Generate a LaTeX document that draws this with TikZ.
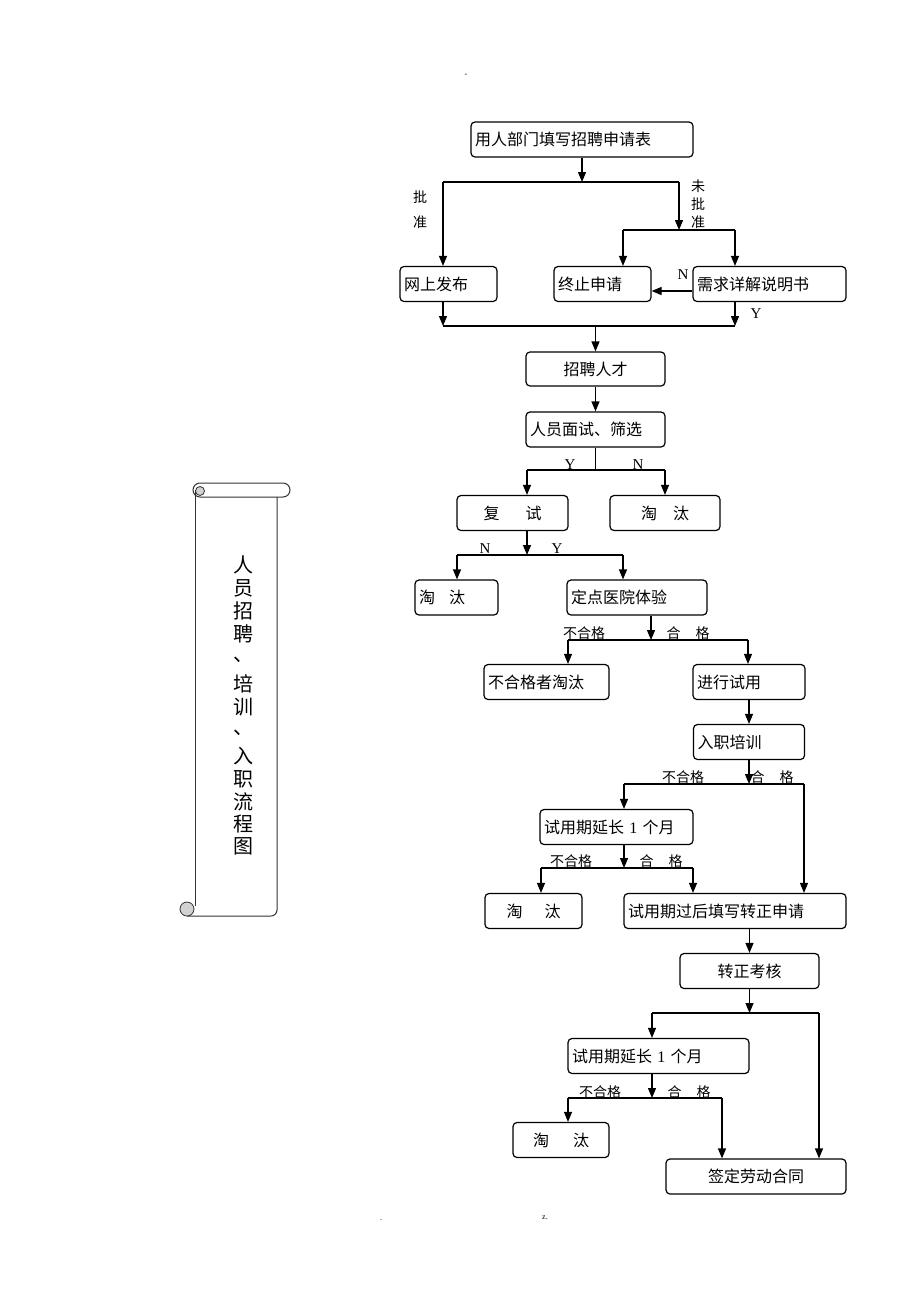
\documentclass[tikz,border=0pt]{standalone}
\usepackage{fontspec}
\setmainfont{Liberation Serif}
\newfontfamily\cjk{Noto Sans CJK SC}
\usetikzlibrary{arrows.meta}

\begin{document}
\begin{tikzpicture}[x=1pt, y=-1pt,
	box/.style={draw, line width=1.2pt, rounded corners=4pt, minimum height=35pt, inner xsep=4pt, inner ysep=0pt, font=\cjk\fontsize{16}{18}\selectfont},
	lbox/.style={box, text width=#1, align=left},
	cbox/.style={box, minimum width=#1, align=center},
	arr/.style={line width=1.2pt, -{Triangle[length=10pt,width=8pt]}},
	ln/.style={line width=1.2pt},
	lab/.style={inner sep=0pt, font=\cjk\fontsize{14}{14}\selectfont},
	yn/.style={inner sep=0pt, font=\fontsize{15}{15}\selectfont},
	title/.style={inner sep=0pt, font=\cjk\fontsize{20}{20}\selectfont},
	pagemark/.style={inner sep=0pt, font=\fontsize{8}{8}\selectfont}]
	\useasboundingbox (0,0) rectangle (920,1302);

	% scroll with the title
	\draw[line width=1pt, black!80, rounded corners=7pt] (193,483) rectangle (290,497);
	\filldraw[line width=0.8pt, draw=black!80, fill=gray!35] (200,491) circle (4.5);
	\draw[line width=1pt, black!80] (195,490) -- (195,906);
	\draw[line width=1pt, black!80, rounded corners=6pt] (277,497) -- (277,916) -- (187,916);
	\filldraw[line width=0.8pt, draw=black!80, fill=gray!35] (187,909) circle (7);
	\foreach \ch/\yy [count=\i] in {人/565, 员/588, 招/611, 聘/634, 、/660, 培/684, 训/707, 、/733, 入/756, 职/779, 流/802, 程/824, 图/846}
		\node[title] (title\i) at (243,\yy) {\ch};

	% boxes
	\node[lbox=214pt] (apply) at (582,139.5) {用人部门填写招聘申请表};
	\node[lbox=89pt] (web) at (448.5,284) {网上发布};
	\node[lbox=89pt] (stop) at (602.5,284) {终止申请};
	\node[lbox=145pt] (spec) at (769.5,284) {需求详解说明书};
	\node[cbox=139pt, minimum height=34pt] (recruit) at (595.5,369) {招聘人才};
	\node[lbox=131pt] (interview) at (595.5,429.5) {人员面试、筛选};
	\node[cbox=111pt] (retest) at (512.5,513) {复\hspace{26pt}试};
	\node[cbox=110pt] (out1) at (665,513) {淘\hspace{16pt}汰};
	\node[lbox=75pt] (out2) at (456.5,597.5) {淘\hspace{14pt}汰};
	\node[lbox=132pt] (hosp) at (637,597.5) {定点医院体验};
	\node[lbox=117pt] (fail1) at (546.5,682) {不合格者淘汰};
	\node[lbox=104pt] (trial) at (749,682) {进行试用};
	\node[lbox=103pt] (train) at (749,742) {入职培训};
	\node[lbox=145pt] (ext1) at (616.5,827) {试用期延长 {\rmfamily 1} 个月};
	\node[cbox=97pt] (out3) at (533.5,911) {淘\hspace{22pt}汰};
	\node[lbox=214pt] (apply2) at (735,911) {试用期过后填写转正申请};
	\node[cbox=139pt] (assess) at (749.5,971) {转正考核};
	\node[lbox=173pt] (ext2) at (658.5,1056) {试用期延长 {\rmfamily 1} 个月};
	\node[cbox=96pt] (out4) at (561,1140) {淘\hspace{24pt}汰};
	\node[cbox=180pt] (contract) at (756,1176.5) {签定劳动合同};

	% junctions
	\coordinate (b1l) at (443,182);  \coordinate (b1r) at (679,182);
	\coordinate (b2l) at (623,230);  \coordinate (b2r) at (735,230);
	\coordinate (b3l) at (443,326);  \coordinate (b3r) at (735,326);
	\coordinate (b4l) at (527,470);  \coordinate (b4r) at (665,470);
	\coordinate (b5l) at (457,555);  \coordinate (b5r) at (623,555);
	\coordinate (b6l) at (568,640);  \coordinate (b6r) at (748,640);
	\coordinate (d6) at (651,640);
	\coordinate (b7l) at (624,784);  \coordinate (b7r) at (804,784);
	\coordinate (b8l) at (541,868);  \coordinate (b8r) at (693,868);
	\coordinate (b9l) at (652,1013); \coordinate (b9r) at (819,1013);
	\coordinate (b10l) at (568,1098); \coordinate (b10r) at (722,1098);

	% connectors
	\draw[arr] (apply.south) -- (apply.south |- b1l);
	\draw[ln] (b1l) -- (b1r);
	\draw[arr] (b1l) -- (b1l |- web.north);
	\draw[arr] (b1r) -- (b2l -| b1r);
	\draw[ln] (b2l) -- (b2r);
	\draw[arr] (b2l) -- (b2l |- stop.north);
	\draw[arr] (b2r) -- (b2r |- spec.north);
	\draw[arr] ([yshift=-7pt]spec.west) -- ([yshift=-7pt]stop.east);
	\draw[arr] (web.south -| b3l) -- (b3l);
	\draw[arr] (spec.south -| b3r) -- (b3r);
	\draw[ln] (b3l) -- (b3r);
	\draw[arr] (recruit.north |- b3l) -- (recruit.north);
	\draw[arr] (recruit) -- (interview);

	\draw[ln] (interview.south) -- (interview.south |- b4l);
	\draw[ln] (b4l) -- (b4r);
	\draw[arr] (b4l) -- (b4l |- retest.north);
	\draw[arr] (b4r) -- (out1.north);
	\draw[arr] (retest.south -| b4l) -- (b5l -| b4l);
	\draw[ln] (b5l) -- (b5r);
	\draw[arr] (b5l) -- (b5l |- out2.north);
	\draw[arr] (b5r) -- (b5r |- hosp.north);

	\draw[arr] (hosp.south -| d6) -- (d6);
	\draw[ln] (b6l) -- (b6r);
	\draw[arr] (b6l) -- (b6l |- fail1.north);
	\draw[arr] (b6r) -- (b6r |- trial.north);
	\draw[arr] (trial) -- (train);
	\draw[arr] (train.south) -- (train.south |- b7l);
	\draw[ln] (b7l) -- (b7r);
	\draw[arr] (b7l) -- (b7l |- ext1.north);
	\draw[arr] (b7r) -- (b7r |- apply2.north);
	\draw[arr] (ext1.south -| b7l) -- (b8l -| b7l);
	\draw[ln] (b8l) -- (b8r);
	\draw[arr] (b8l) -- (b8l |- out3.north);
	\draw[arr] (b8r) -- (b8r |- apply2.north);

	\draw[arr] (apply2.south -| assess) -- (assess.north);
	\draw[arr] (assess.south) -- (assess.south |- b9l);
	\draw[ln] (b9l) -- (b9r);
	\draw[arr] (b9l) -- (b9l |- ext2.north);
	\draw[arr] (b9r) -- (b9r |- contract.north);
	\draw[arr] (ext2.south -| b9l) -- (b10l -| b9l);
	\draw[ln] (b10l) -- (b10r);
	\draw[arr] (b10l) -- (b10l |- out4.north);
	\draw[arr] (b10r) -- (b10r |- contract.north);

	% labels
	\node[lab] (ok1) at (420,197) {批};
	\node[lab] (ok2) at (420,222) {准};
	\node[lab] (no1) at (698,186) {未};
	\node[lab] (no2) at (698,204) {批};
	\node[lab] (no3) at (698,222) {准};
	\node[yn] (specN) at (683,275) {N};
	\node[yn] (specY) at (756,314) {Y};
	\node[yn] (intY) at (570,465) {Y};
	\node[yn] (intN) at (638,465) {N};
	\node[yn] (reN) at (485,549) {N};
	\node[yn] (reY) at (557,549) {Y};
	\node[lab] (hospF) at (584,633) {不合格};
	\node[lab] (hospP) at (688,633) {合\hspace{15pt}格};
	\node[lab] (trainF) at (683,777) {不合格};
	\node[lab] (trainP) at (772,777) {合\hspace{15pt}格};
	\node[lab] (extF) at (571,861) {不合格};
	\node[lab] (extP) at (661,861) {合\hspace{15pt}格};
	\node[lab] (ext2F) at (600,1092) {不合格};
	\node[lab] (ext2P) at (689,1092) {合\hspace{15pt}格};

	% page marks
	\node[pagemark] (head) at (466,75) {-};
	\node[pagemark] (foot1) at (381,1220) {.};
	\node[pagemark] (foot2) at (545,1218) {z.};
\end{tikzpicture}
\end{document}
